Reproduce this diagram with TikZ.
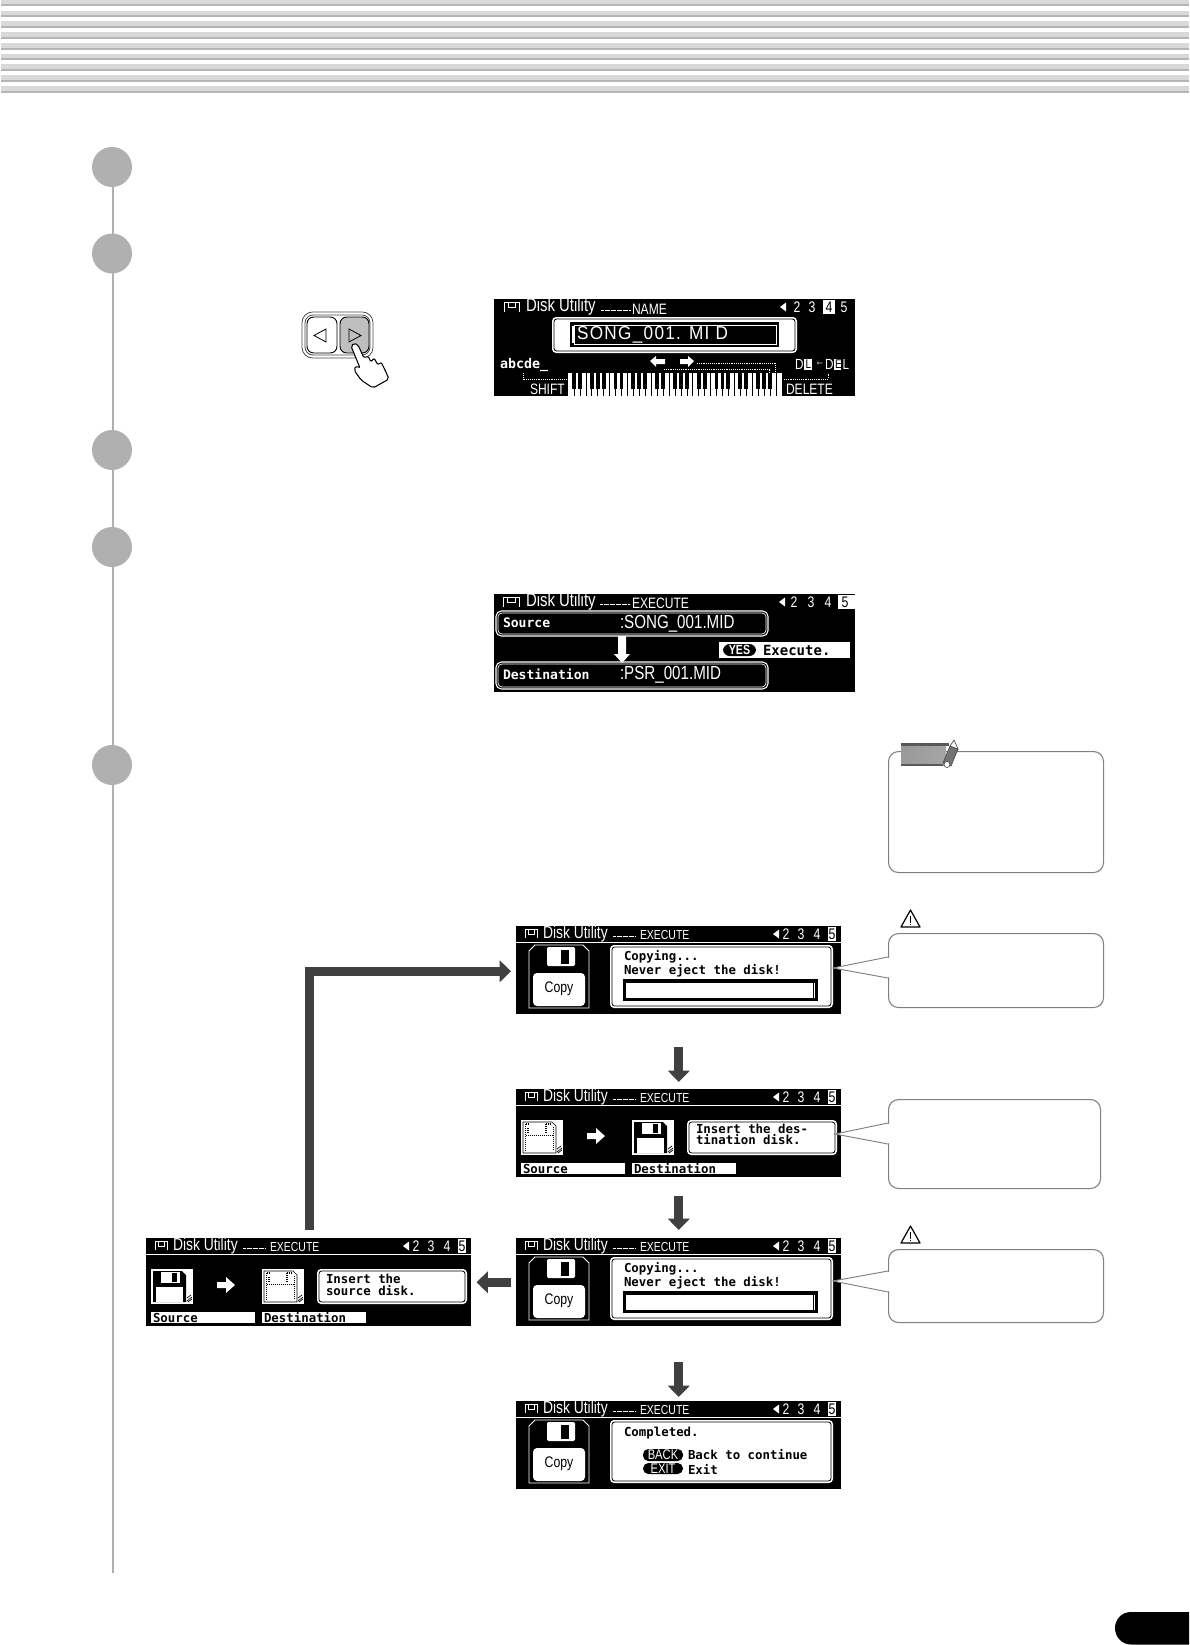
\documentclass[tikz,border=0pt]{standalone}
\usepackage{fontspec}
\setmainfont{Liberation Sans}
\setmonofont{DejaVu Sans Mono}
\newfontfamily\lcdf[FakeStretch=0.8]{Liberation Sans}
\newfontfamily\lcds[FakeStretch=0.92,LetterSpace=7]{Liberation Sans}
\usetikzlibrary{calc,arrows.meta,patterns}
\definecolor{stripeL}{HTML}{D9D9D9}
\definecolor{stripeD}{HTML}{B5B5B5}
\definecolor{stepc}{HTML}{B0B0B0}
\definecolor{flowc}{HTML}{404040}
\definecolor{boxc}{HTML}{808080}
\newcounter{tn}
\newcommand{\lbl}[4]{\stepcounter{tn}\node[#3] (t\arabic{tn}) at (#1,#2) {#4};}
\tikzset{
  px/.style 2 args={minimum width=#1*0.75pt,minimum height=#2*0.75pt},
  scrn/.style={fill=black,draw=none,inner sep=0,anchor=north west},
  stepdot/.style={circle,fill=stepc,draw=none,minimum size=30pt,inner sep=0},
  stepline/.style={draw=stepc,line width=1.9pt},
  flow/.style={draw=flowc,line width=6.5pt,-{Triangle[length=8.5pt,width=16pt]}},
  cbox/.style={draw=boxc,line width=0.8pt,rounded corners=7.5pt,fill=white,inner sep=0,anchor=north west},
  wedge/.style={draw=boxc,line width=0.7pt,fill=white},
  txt/.style={inner sep=0,anchor=west,outer sep=0},
  hw/.style={txt,text=white,font=\lcdf\fontsize{13}{13}\selectfont},
  hwl/.style={txt,text=white,font=\lcdf\fontsize{14}{14}\selectfont},
  hl/.style={txt,text=white,font=\lcdf\fontsize{9.8}{10}\selectfont},
  hll/.style={txt,text=white,font=\lcdf\fontsize{11.3}{11}\selectfont},
  hn/.style={txt,text=white,anchor=center,font=\lcdf\fontsize{11.5}{11}\selectfont},
  hk/.style={txt,text=black,anchor=center,font=\lcdf\fontsize{11.5}{11}\selectfont},
  bk/.style={txt,text=black,font=\ttfamily\bfseries\fontsize{9.3}{9}\selectfont},
  bw/.style={txt,text=white,font=\ttfamily\bfseries\fontsize{9.8}{10}\selectfont},
  bkb/.style={txt,text=black,font=\ttfamily\bfseries\fontsize{10.5}{10}\selectfont},
  thin/.style={txt,text=white,font=\lcdf\fontsize{14.2}{14}\selectfont},
  thins/.style={txt,text=white,font=\lcds\fontsize{14}{14}\selectfont},
  pill/.style={txt,text=white,anchor=center,font=\lcdf\fontsize{10.5}{10}\selectfont},
  cpy/.style={txt,text=black,anchor=center,font=\lcdf\fontsize{11.5}{12}\selectfont},
  dl/.style={txt,text=white,font=\lcdf\fontsize{11}{11}\selectfont},
  dk/.style={txt,text=black,font=\lcdf\fontsize{9.5}{9}\selectfont},
}
% header of a small screen: #1 = section name
\newcommand{\smallhdr}[1]{%
  \draw[white,line width=0.6pt] (9,12)--(9,3)--(21,3)--(21,12) (12,3)--(12,8)--(18,8)--(18,3);
  \lbl{27}{8}{hw}{Disk Utility}
  \draw[white,line width=0.5pt,dash pattern=on 0.6pt off 0.3pt] (97,10)--(119,10);
  \lbl{124}{9}{hl}{#1}
  \fill[white] (257,8)--(263,3.5)--(263,12.5)--cycle;
  \lbl{270}{8}{hn}{2}\lbl{285}{8}{hn}{3}\lbl{301}{8}{hn}{4}
  \fill[white] (312,1) rectangle (320,15);
  \lbl{316}{8}{hk}{5}
  \draw[white,line width=0.6pt] (0,16)--(325,16);
}
% rounded message panel, white inside
\newcommand{\msgpanel}[4]{%
  \fill[white,rounded corners=3pt] (#1,#2) rectangle (#3,#4);
  \draw[black,line width=0.6pt,rounded corners=2pt] (#1+2,#2+2) rectangle (#3-2,#4-2);
}
% rounded panel, black inside
\newcommand{\blkpanel}[4]{%
  \draw[white,line width=0.8pt,rounded corners=4pt] (#1,#2) rectangle (#3,#4);
  \draw[white,line width=0.5pt,rounded corners=3pt] (#1+2,#2+2) rectangle (#3-2,#4-2);
}
\newcommand{\copyicon}{%
  \draw[white,line width=0.7pt] (13,25)--(19,19)--(67,19)--(73,25)--(73,82)--(13,82)--cycle;
  \fill[white,rounded corners=1pt] (31,21) rectangle (59,40);
  \fill[black] (45,24) rectangle (53,38);
  \fill[white,rounded corners=3pt] (17,47) rectangle (69,80);
  \lbl{43}{63}{cpy}{Copy}
}
\newcommand{\barpanel}{%
  \fill[black] (107,53) rectangle (302,75);
  \fill[white] (110,57) rectangle (299,72);
  \draw[black,line width=0.5pt] (297,57)--(297,72);
}
% small solid floppy icon, x origin #1
\newcommand{\solidicon}[1]{%
  \begin{scope}[shift={(#1,31)}]
  \fill[white] (0,0) rectangle (42,35);
  \fill[black] (2,2)--(31,2)--(35,6)--(35,33)--(2,33)--cycle;
  \fill[white] (10,3) rectangle (29,14);
  \fill[black] (21,4) rectangle (26,13);
  \fill[white] (5,18) rectangle (32,33);
  \draw[black,line width=0.5pt] (36,32)--(41,28) (37,33)--(41,30) (36,29)--(40,26);
  \end{scope}
}
\newcommand{\hatchicon}[1]{%
  \begin{scope}[shift={(#1,31)}]
  \fill[white] (0,0) rectangle (42,35);
  \draw[black,line width=0.5pt] (2,2)--(31,2)--(35,6)--(35,33)--(2,33)--cycle;
  \draw[black,line width=1.4pt,dash pattern=on 0.75pt off 0.75pt] (4.5,4)--(4.5,31) (32.5,7)--(32.5,31) (4.5,4)--(30,4) (4.5,15.5)--(32.5,15.5);
  \fill[white] (9,3) rectangle (24,12);
  \draw[black,line width=1.4pt,dash pattern=on 0.75pt off 0.75pt] (25,4)--(25,14);
  \draw[black,line width=1.4pt,dash pattern=on 0.75pt off 0.75pt] (7,8)--(7,14);
  \draw[black,line width=0.5pt] (36,32)--(41,28) (37,33)--(41,30) (36,29)--(40,26);
  \end{scope}
}
\newcommand{\whitearrow}{\fill[white] (71,44)--(80,44)--(80,39)--(89,47)--(80,55)--(80,50)--(71,50)--cycle;}
\newcommand{\tinybars}{%
  \fill[white] (5,74) rectangle (109,85);
  \fill[white] (116,74) rectangle (220,85);
  \lbl{7}{80}{bk}{Source}
  \lbl{118}{80}{bk}{Destination}
}
\begin{document}
\begin{tikzpicture}[x=0.75pt,y=-0.75pt]
\useasboundingbox (0,0) rectangle (1189,1645);
\fill[white] (0,0) rectangle (1189,1645);
% header stripes
\foreach \a/\b in {-1/6,11/17,21/28,32/39,43/50,54/60,64/71,75/82,86/93}{
  \fill[stripeL] (1,\a) rectangle (1189,\b);
  \fill[stripeD] (1,\b-1.6) rectangle (1189,\b);
}
% step column
\node[stepdot] (c1) at (112,167) {};
\node[stepdot] (c2) at (112,253.5) {};
\node[stepdot] (c3) at (112,450) {};
\node[stepdot] (c4) at (112,547) {};
\node[stepdot] (c5) at (112,765) {};
\coordinate (cend) at (113,1573);
\draw[stepline] ($(c1)+(1,0)$)--($(c2)+(1,0)$) ($(c2)+(1,0)$)--($(c3)+(1,0)$) ($(c3)+(1,0)$)--($(c4)+(1,0)$) ($(c4)+(1,0)$)--($(c5)+(1,0)$) ($(c5)+(1,0)$)--(cend);
% buttons and hand
\draw[black!70,line width=0.6pt,rounded corners=8pt] (302,312) rectangle (373,358);
\draw[black!70,line width=0.6pt,rounded corners=6pt] (305,315) rectangle (370,355);
\draw[black,line width=0.7pt,fill=white,rounded corners=5pt] (307,317) rectangle (337,353);
\fill[black!25,rounded corners=5pt] (340,317) rectangle (369,353);
\draw[black,line width=0.7pt,rounded corners=5pt] (340,317) rectangle (369,353);
\draw[black,line width=0.6pt] (326,329)--(314,335.5)--(326,342)--cycle;
\draw[black,line width=0.6pt] (349,329)--(361,335.5)--(349,342)--cycle;
\draw[black,line width=0.8pt,fill=white,rounded corners=1.5pt]
  (351,346)--(354,343)--(358,345)--(364,358)--(368,356)--(371,362)--(374,358)--(378,365)--(381,362)--(385,370)--(389,379)--(373,388)--(361,380)--(354,370)--(356,366)--(360,368)--cycle;
% NAME screen
\node[scrn,px={361}{97}] (sname) at (494,299) {};
\begin{scope}[shift={(494,299)}]
  \draw[white,line width=0.7pt] (10,13)--(10,3)--(25,3)--(25,13) (14,3)--(14,8)--(21,8)--(21,3);
  \lbl{32}{8}{hwl}{Disk Utility}
  \draw[white,line width=0.5pt,dash pattern=on 0.6pt off 0.3pt] (107,11)--(136,11);
  \lbl{138}{10}{hll}{NAME}
  \fill[white] (286,8)--(292,3.5)--(292,12.5)--cycle;
  \lbl{303}{8}{hn}{2}\lbl{318}{8}{hn}{3}
  \fill[white] (329,1) rectangle (341,15);
  \lbl{335}{8}{hk}{4}\lbl{350}{8}{hn}{5}
  \msgpanel{58}{18}{303}{54}
  \fill[black] (76,23) rectangle (285,48);
  \draw[white,line width=0.5pt] (80,26) rectangle (282,45);
  \fill[white] (78,27) rectangle (81,44);
  \lbl{83}{36}{thins}{SONG\_001. MI D}
  \node[txt,text=white,font=\ttfamily\bfseries\fontsize{10}{10}\selectfont] (abc) at (6,66) {abcde\_};
  \fill[white] (156,62)--(162,57)--(162,60)--(171,60)--(171,65)--(162,65)--(162,68)--cycle;
  \fill[white] (200,62)--(194,57)--(194,60)--(186,60)--(186,65)--(194,65)--(194,68)--cycle;
  \draw[white,line width=0.5pt,dash pattern=on 0.7pt off 0.7pt] (203,64)--(281,64)--(281,74) (170,70)--(275,70)--(275,74);
  \lbl{301}{65.5}{dl}{D}
  \fill[white] (310,60) rectangle (318,71);
  \lbl{311.5}{65.5}{dk}{L}
  \lbl{321}{65}{txt,text=white,font=\lcdf\fontsize{9}{9}\selectfont}{←}
  \lbl{331}{65.5}{dl}{D}
  \fill[white] (340,60) rectangle (347,71);
  \lbl{341}{65.5}{dk}{E}
  \lbl{348.5}{65.5}{dl}{L}
  \draw[white,line width=0.5pt,dash pattern=on 0.7pt off 0.7pt] (29,74)--(29,80)--(72,80) (290,80)--(334,80)--(334,74);
  \lbl{36}{90}{hll}{SHIFT}
  \lbl{292}{90}{hll}{DELETE}
  % keyboard
  \fill[white] (74,74) rectangle (288,97);
  \foreach \i in {1,...,35}{\draw[black,line width=0.45pt] ({74+\i*5.94},74)--({74+\i*5.94},97);}
  \foreach \o in {0,...,4}{\foreach \k in {1,2,4,5,6}{
    \fill[black] ({74+(\o*7+\k)*5.94-1.9},74) rectangle ({74+(\o*7+\k)*5.94+1.9},90);}}
\end{scope}
% EXECUTE screen
\node[scrn,px={361}{98}] (sexec) at (494,594) {};
\begin{scope}[shift={(494,594)}]
  \draw[white,line width=0.7pt] (9,13)--(9,3)--(25,3)--(25,13) (13,3)--(13,8)--(21,8)--(21,3);
  \lbl{32}{8}{hwl}{Disk Utility}
  \draw[white,line width=0.5pt,dash pattern=on 0.6pt off 0.3pt] (106,10)--(136,10);
  \lbl{138}{9.5}{hll}{EXECUTE}
  \fill[white] (285,8)--(291,3.5)--(291,12.5)--cycle;
  \lbl{300}{8}{hn}{2}\lbl{317}{8}{hn}{3}\lbl{334}{8}{hn}{4}
  \fill[white] (344,1) rectangle (361,15);
  \lbl{351}{8}{hk}{5}
  \blkpanel{2}{17}{274}{42}
  \blkpanel{2}{68}{274}{95}
  \lbl{9}{29}{bw}{Source}
  \lbl{9}{80}{bw}{Destination}
  \lbl{126}{29.5}{thin}{:SONG\_001.MID}
  \lbl{126}{81}{thin}{:PSR\_001.MID}
  \fill[white] (124,42)--(132,42)--(132,60)--(136,60)--(128,69)--(120,60)--(124,60)--cycle;
  \fill[white] (225,48) rectangle (356,64);
  \fill[black,rounded corners=5pt] (229,50) rectangle (262,62);
  \lbl{245.5}{56}{pill,font=\lcdf\bfseries\fontsize{10}{10}\selectfont}{YES}
  \lbl{269}{56}{bkb}{Execute.}
\end{scope}
% Copying 1
\node[scrn,px={325}{88}] (s1) at (516,926) {};
\begin{scope}[shift={(516,926)}]
  \smallhdr{EXECUTE}\copyicon\msgpanel{94}{19}{317}{82}
  \lbl{108}{31}{bk}{Copying...}
  \lbl{108}{45}{bk}{Never eject the disk!}
  \barpanel
\end{scope}
% Insert destination
\node[scrn,px={325}{88}] (s2) at (516,1089) {};
\begin{scope}[shift={(516,1089)}]
  \smallhdr{EXECUTE}\hatchicon{5}\whitearrow\solidicon{116}\tinybars
  \msgpanel{171}{31}{321}{66}
  \lbl{180}{40}{bk}{Insert the des-}
  \lbl{180}{51}{bk}{tination disk.}
\end{scope}
% Copying 2
\node[scrn,px={325}{88}] (s3) at (516,1238) {};
\begin{scope}[shift={(516,1238)}]
  \smallhdr{EXECUTE}\copyicon\msgpanel{94}{19}{317}{82}
  \lbl{108}{31}{bk}{Copying...}
  \lbl{108}{45}{bk}{Never eject the disk!}
  \barpanel
\end{scope}
% Insert source
\node[scrn,px={325}{88}] (s4) at (146,1238) {};
\begin{scope}[shift={(146,1238)}]
  \smallhdr{EXECUTE}\solidicon{5}\whitearrow\hatchicon{116}\tinybars
  \msgpanel{171}{31}{321}{66}
  \lbl{180}{41}{bk}{Insert the}
  \lbl{180}{53}{bk}{source disk.}
\end{scope}
% Completed
\node[scrn,px={325}{88}] (s5) at (516,1401) {};
\begin{scope}[shift={(516,1401)}]
  \smallhdr{EXECUTE}\copyicon\msgpanel{94}{19}{317}{82}
  \lbl{108}{32}{bk}{Completed.}
  \fill[black,rounded corners=4pt] (127,48) rectangle (167,60);
  \fill[black,rounded corners=4pt] (127,62) rectangle (167,73);
  \lbl{147}{54}{pill}{BACK}
  \lbl{147}{67.5}{pill}{EXIT}
  \lbl{172}{54}{bk}{Back to continue}
  \lbl{172}{68}{bk}{Exit}
\end{scope}
% flow arrows
\draw[flow] ($(s1.south)+(0,32)$)--($(s2.north)+(0,-7)$);
\draw[flow] ($(s2.south)+(0,18)$)--($(s3.north)+(0,-8)$);
\draw[flow] ($(s3.south)+(0,35)$)--($(s5.north)+(0,-4)$);
\draw[flow] ($(s3.west)+(-5,0)$)--($(s4.east)+(5,0)$);
\draw[flow] ($(s4.north)+(1,-8)$)|-($(s1.west)+(-5,1)$);
% note box
\node[cbox,px={215}{121}] (note) at (888,751) {};
\shade[left color=black!40,middle color=black!18,right color=black!35,shading angle=70] (901,744) rectangle (946,765);
\fill[black!65] (901,743) rectangle (949,745.5);
\fill[black!65] (901,764) rectangle (943,766);
\draw[black!70,fill=black!55,line width=0.5pt] (950,746)--(958,749)--(951,766)--(943,763)--cycle;
\draw[black!70,fill=white,line width=0.5pt] (950,746)--(954,740)--(958,749)--cycle;
\draw[black!70,fill=white,line width=0.5pt] (947,764.5) circle[radius=3];
% callouts
\node[cbox,px={215}{74}] (cb1) at (888,933) {};
\node[cbox,px={212}{89}] (cb2) at (888,1099) {};
\node[cbox,px={215}{73}] (cb3) at (888,1249) {};
\coordinate (tip1) at (833,968);
\coordinate (tip2) at (835,1134);
\coordinate (tip3) at (833,1281);
\draw[wedge] (cb1.north west|-0,957)--(tip1)--(cb1.north west|-0,978);
\draw[wedge] (cb2.north west|-0,1123)--(tip2)--(cb2.north west|-0,1144);
\draw[wedge] (cb3.north west|-0,1271)--(tip3)--(cb3.north west|-0,1292);
\fill[white] (886,958) rectangle (890,977) (886,1124) rectangle (890,1143) (886,1272) rectangle (890,1291);
% warning signs
\foreach \y in {910,1226}{
  \draw[black,line width=0.9pt,line join=round] (910.5,\y)--(901,\y+17)--(920,\y+17)--cycle;
  \fill[black] (910,\y+6) rectangle (911.2,\y+12.5);
  \fill[black] (910,\y+13.5) rectangle (911.2,\y+15);
}
% page tab
\fill[black] (1189,1612)--(1131,1612) .. controls (1121,1612) and (1115,1620) .. (1115,1628) .. controls (1115,1636) and (1121,1644.5) .. (1131,1644.5)--(1189,1644.5)--cycle;
\end{tikzpicture}
\end{document}
